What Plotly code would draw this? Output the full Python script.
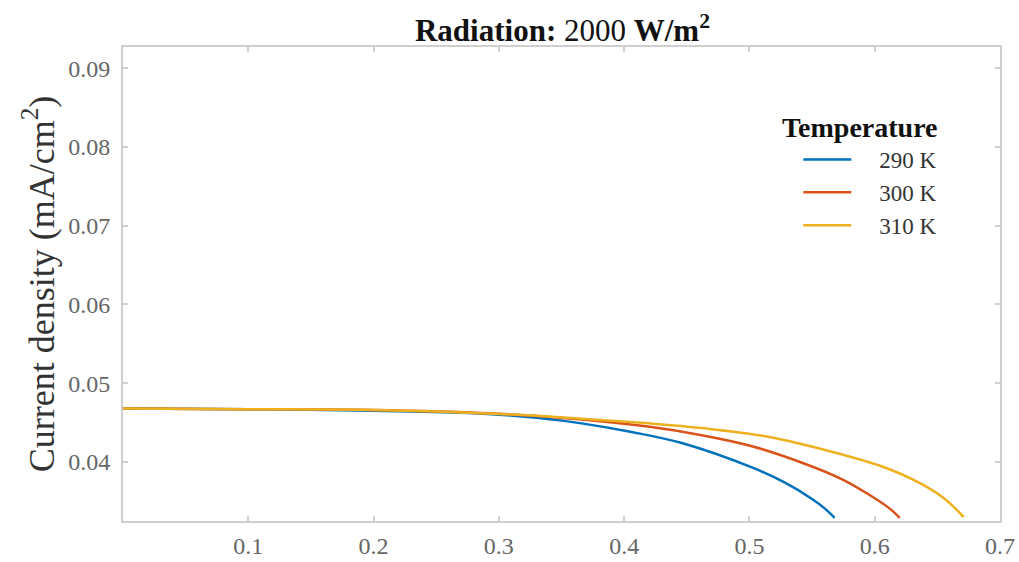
import plotly.graph_objects as go

# Voltage (x) and current density (y)
v_290 = [0.0, 0.1, 0.2, 0.28, 0.33, 0.366, 0.406, 0.446, 0.502, 0.528, 0.550, 0.560, 0.568]
j_290 = [0.0468, 0.0467, 0.0465, 0.0462, 0.0456, 0.0449, 0.0438, 0.0424, 0.0393, 0.0374, 0.0353, 0.0341, 0.0329]

v_300 = [0.0, 0.1, 0.2, 0.29, 0.366, 0.419, 0.462, 0.502, 0.542, 0.574, 0.595, 0.611, 0.620]
j_300 = [0.0468, 0.0467, 0.0466, 0.0462, 0.0454, 0.0445, 0.0434, 0.0420, 0.0399, 0.0378, 0.0359, 0.0342, 0.0329]

v_310 = [0.0, 0.1, 0.2, 0.30, 0.366, 0.42, 0.462, 0.515, 0.568, 0.608, 0.635, 0.656, 0.671]
j_310 = [0.0468, 0.0467, 0.0466, 0.0461, 0.0455, 0.0449, 0.0443, 0.0432, 0.0412, 0.0393, 0.0374, 0.0353, 0.0330]

labels = ["290 K", "300 K", "310 K"]
colors = ["#0072BD", "#D95319", "#EDB120"]

x_ticks = [0.1, 0.2, 0.3, 0.4, 0.5, 0.6, 0.7]
y_ticks = [0.04, 0.05, 0.06, 0.07, 0.08, 0.09]

FONT = "Liberation Serif"
NB = "\u00a0"

fig = go.Figure()
for i, (xv, yv) in enumerate([(v_290, j_290), (v_300, j_300), (v_310, j_310)]):
    fig.add_trace(go.Scatter(
        x=xv, y=yv, mode="lines", name=NB * 4 + labels[i],
        line=dict(color=colors[i], width=2.5, shape="spline", smoothing=1.0),
    ))

axis_common = dict(
    showline=True, linecolor="#cfcfcf", linewidth=2, mirror="ticks",
    ticks="inside", ticklen=5, tickcolor="#cfcfcf", tickwidth=1.5,
    showgrid=False, zeroline=False, automargin=False,
    tickfont=dict(family=FONT, size=24, color="#666666"),
)

fig.update_xaxes(range=[0, 0.7], tickvals=x_ticks, ticktext=[str(t) for t in x_ticks],
                 ticklabelstandoff=2, **axis_common)
fig.update_yaxes(range=[0.0325, 0.0927], tickvals=y_ticks, ticktext=[f"{t:.2f}" for t in y_ticks],
                 ticklabelstandoff=6,
                 title=dict(text="Current density (mA/cm<sup>2</sup>)",
                            font=dict(family=FONT, size=36, color="#333333"), standoff=3),
                 **axis_common)

fig.update_layout(
    width=1019, height=562,
    margin=dict(l=123, r=19, t=47, b=41),
    paper_bgcolor="white", plot_bgcolor="white",
    title=dict(text="<b>Radiation:</b> 2000 <b>W/m<sup>2</sup></b>",
               x=0.552, xanchor="center", y=0.947, yanchor="middle",
               font=dict(family=FONT, size=31, color="#111111")),
    showlegend=True,
    legend=dict(x=0.770, y=0.808, xanchor="left", yanchor="top",
                bgcolor="rgba(0,0,0,0)", font=dict(family=FONT, size=23, color="#333333"),
                itemwidth=48, traceorder="normal"),
    annotations=[dict(text="<b>Temperature</b>", xref="paper", yref="paper",
                      x=0.749, y=0.831, xanchor="left", yanchor="middle", showarrow=False,
                      font=dict(family=FONT, size=28, color="#111111"))],
)

fig.write_html("out.html", config={"displayModeBar": False},
               post_script="document.body.style.margin='0';")
